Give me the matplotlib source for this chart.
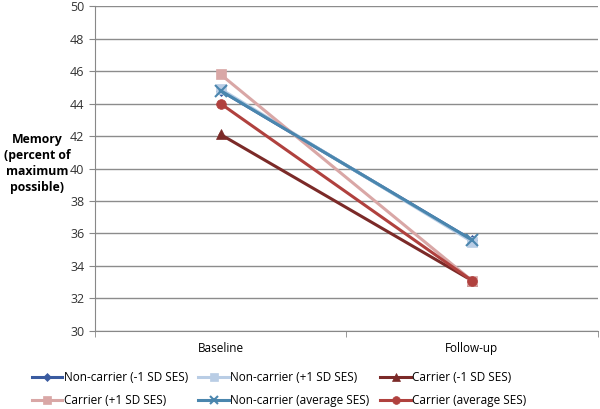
import matplotlib
matplotlib.use('Agg')
import matplotlib.pyplot as plt
import numpy as np

plt.rcParams['font.family'] = ['Open Sans', 'DejaVu Sans']

timepoints = ['Baseline', 'Follow-up']
series_names = ['Non-carrier (-1 SD SES)', 'Non-carrier (+1 SD SES)', 'Carrier (-1 SD SES)',
                'Carrier (+1 SD SES)', 'Non-carrier (average SES)', 'Carrier (average SES)']
noncarrier_low = [44.8, 35.6]
noncarrier_high = [44.9, 35.5]
carrier_low = [42.1, 33.1]
carrier_high = [45.8, 33.1]
noncarrier_avg = [44.8, 35.6]
carrier_avg = [44.0, 33.1]

series_values = [noncarrier_low, noncarrier_high, carrier_low,
                 carrier_high, noncarrier_avg, carrier_avg]
colors = ['#3A5BA0', '#B9CDE5', '#7B2A28', '#D9A7A6', '#4A86AE', '#B0413E']
markers = ['D', 's', '^', 's', 'x', 'o']
msizes = [5, 7, 7, 7, 8, 7]

fig = plt.figure(figsize=(6, 4.09), dpi=100)
ax = fig.add_axes([0.158, 0.191, 0.838, 0.794])

x = np.arange(len(timepoints))
handles = []
for vals, name, c, m, ms in zip(series_values, series_names, colors, markers, msizes):
    h, = ax.plot(x, vals, color=c, marker=m, markersize=ms, linewidth=2.2,
                 markeredgewidth=1.5 if m == 'x' else 0.5, markeredgecolor=c, label=name)
    handles.append(h)

ax.set_ylim(30, 50)
ax.set_yticks(np.arange(30, 51, 2))
ax.set_xlim(-0.5, 1.5)
ax.set_xticks(x)
ax.set_xticklabels(timepoints, fontsize=8.5)
ax.set_xticks([-0.5, 0.5, 1.5], minor=True)
ax.tick_params(axis='x', which='major', length=0, pad=8)
ax.tick_params(axis='x', which='minor', length=4, color='#888888')
ax.tick_params(axis='y', length=4, color='#888888', labelsize=9, labelcolor='#333333')
ax.grid(axis='y', color='#8c8c8c', linewidth=1)
ax.set_axisbelow(True)
for side in ['top', 'right']:
    ax.spines[side].set_visible(False)
for side in ['left', 'bottom']:
    ax.spines[side].set_color('#888888')

fig.text(0.062, 0.6, 'Memory\n(percent of\nmaximum\npossible)', ha='center', va='center',
         fontsize=8.8, fontweight='bold', linespacing=1.3)

# legend fills by column, so reorder to get the reference's row layout
order = [0, 3, 1, 4, 2, 5]
fig.legend([handles[i] for i in order], [series_names[i] for i in order],
           loc='center', bbox_to_anchor=(0.465, 0.048), ncol=3, frameon=False,
           fontsize=8.5, handlelength=2.6, columnspacing=0.9, handletextpad=0.1,
           labelspacing=0.85, markerscale=0.8)

fig.savefig('out.png', dpi=100, facecolor='white')
